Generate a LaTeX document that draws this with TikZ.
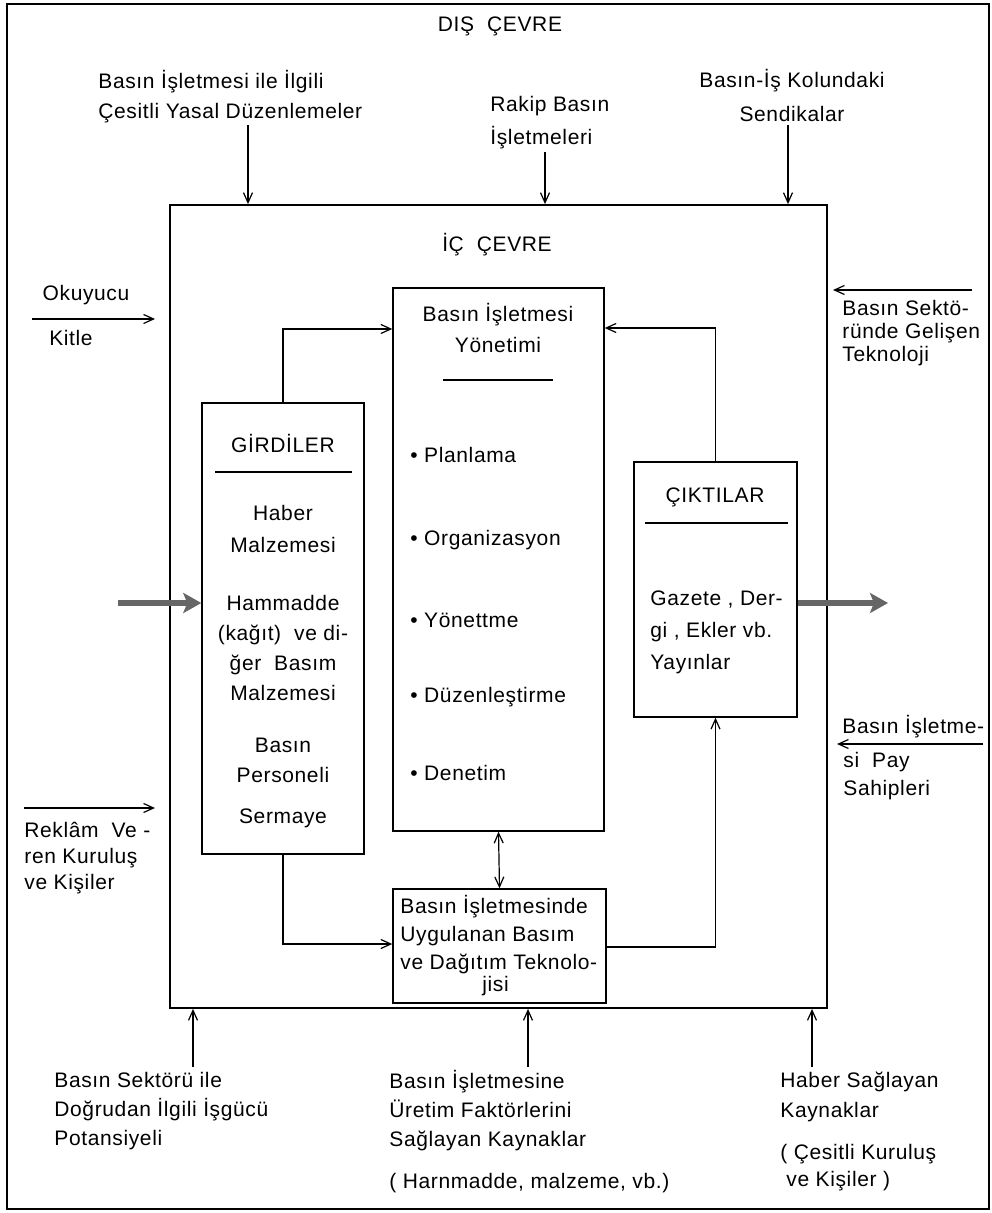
\documentclass[tikz,border=0pt]{standalone}
\usepackage{fontspec}
\setmainfont{Liberation Sans}[LetterSpace=3]
\usetikzlibrary{arrows.meta,fit}
\begin{document}
\begin{tikzpicture}[x=0.5pt,y=-0.5pt,
  txt/.style={inner sep=0pt, font=\fontsize{10.5}{15}\selectfont},
  frame/.style={draw, line width=0.9pt, inner sep=0pt},
  box/.style={draw, line width=0.7pt, inner sep=0pt},
  conn/.style={line width=0.6pt, -{Straight Barb[length=5pt,width=4.5pt]}},
  both/.style={line width=0.6pt, {Straight Barb[length=5pt,width=4.5pt]}-{Straight Barb[length=5pt,width=4.5pt]}},
  fat/.style={line width=3pt, draw=black!60, -{Stealth[length=9pt,width=10pt,inset=2pt]}},
  rule/.style={line width=0.6pt}]
\useasboundingbox (0,0) rectangle (991,1213);
\fill[white] (0,0) rectangle (991,1213);

% frames and boxes
\node[frame, fit={(7,4) (989,1209)}] (outer) {};
\node[frame, fit={(170,205) (827,1008)}] (inner) {};
\node[box, fit={(202,403) (364,854)}] (gird) {};
\node[box, fit={(393,288) (604,831)}] (mgmt) {};
\node[box, fit={(634,462) (797,717)}] (cikti) {};
\node[box, fit={(393,889) (606,1003)}] (tech) {};

% outer texts
\node[txt] (dis) at (500,26) {DIŞ~~ÇEVRE};
\node[txt, anchor=west, align=left] (yasal) at (98,97) {Basın İşletmesi ile İlgili\\Çesitli Yasal Düzenlemeler};
\node[txt, anchor=west, align=left, font=\fontsize{10.5}{16.5}\selectfont] (rakip) at (490,123) {Rakip Basın\\İşletmeleri};
\node[txt, align=center, font=\fontsize{10.5}{17}\selectfont] (sendika) at (792,95) {Basın-İş Kolundaki\\Sendikalar};
\node[txt] (okuyucu) at (86,295) {Okuyucu};
\node[txt] (kitle) at (71,338) {Kitle};
\node[txt, anchor=west, align=left, font=\fontsize{10.5}{11.5}\selectfont] (sektor) at (842,333) {Basın Sektö-\\ründe Gelişen\\Teknoloji};
\node[txt, anchor=west] (pay1) at (842,727) {Basın İşletme-};
\node[txt, anchor=west, align=left, font=\fontsize{10.5}{14}\selectfont] (pay2) at (843,776) {si~~Pay\\Sahipleri};
\node[txt, anchor=west, align=left, font=\fontsize{10.5}{13}\selectfont] (reklam) at (24,858) {Reklâm~~Ve -\\ren Kuruluş\\ve Kişiler};
\node[txt, anchor=west, align=left, font=\fontsize{10.5}{14.5}\selectfont] (lab1) at (54,1111) {Basın Sektörü ile\\Doğrudan İlgili İşgücü\\Potansiyeli};
\node[txt, anchor=west, align=left, font=\fontsize{10.5}{14.5}\selectfont] (lab2) at (389,1111) {Basın İşletmesine\\Üretim Faktörlerini\\Sağlayan Kaynaklar};
\node[txt, anchor=west] (lab2b) at (389,1183) {( Harnmadde, malzeme, vb.)};
\node[txt, anchor=west, align=left, font=\fontsize{10.5}{15}\selectfont] (lab3) at (780,1097) {Haber Sağlayan\\Kaynaklar};
\node[txt, anchor=west, align=left, font=\fontsize{10.5}{13.5}\selectfont] (lab3b) at (780,1168) {( Çesitli Kuruluş\\\hspace*{3pt}ve Kişiler )};

% inner texts
\node[txt] (ic) at (497,245) {İÇ~~ÇEVRE};
\node[txt] (girdt) at (283,443) {GİRDİLER};
\draw[rule] (215,472) -- (352,472);
\node[txt, align=center, font=\fontsize{10.5}{16}\selectfont] (g1) at (283,529) {Haber\\Malzemesi};
\node[txt, align=center] (g2) at (283,648) {Hammadde\\(kağıt)~ ve di-\\ğer~ Basım\\Malzemesi};
\node[txt, align=center] (g3) at (283,760) {Basın\\Personeli};
\node[txt] (g4) at (283,818) {Sermaye};

\node[txt, align=center, font=\fontsize{10.5}{15.5}\selectfont] (m0) at (498,328) {Basın İşletmesi\\Yönetimi};
\draw[rule] (443,380) -- (553,380);
\node[txt, anchor=west] (m1) at (410,455) {• Planlama};
\node[txt, anchor=west] (m2) at (410,540) {• Organizasyon};
\node[txt, anchor=west] (m3) at (410,620) {• Yönettme};
\node[txt, anchor=west] (m4) at (410,697) {• Düzenleştirme};
\node[txt, anchor=west] (m5) at (410,773) {• Denetim};

\node[txt] (ciktit) at (715,497) {ÇIKTILAR};
\draw[rule] (645,523) -- (788,523);
\node[txt, anchor=west, align=left, font=\fontsize{10.5}{16}\selectfont] (c1) at (650,632) {Gazete , Der-\\gi , Ekler vb.\\Yayınlar};

\node[txt, anchor=west, align=left, font=\fontsize{10.5}{14}\selectfont] (t1) at (400,946) {Basın İşletmesinde\\Uygulanan Basım\\ve Dağıtım Teknolo-\\[-3pt]\hspace*{41pt}jisi};

% coordinates for free ends
\coordinate (a1) at (248,125);
\coordinate (a2) at (545,152);
\coordinate (a3) at (788,125);
\coordinate (b1) at (193,1067);
\coordinate (b2) at (528,1067);
\coordinate (b3) at (812,1067);
\coordinate (oks) at (32,319);
\coordinate (oke) at (155,319);
\coordinate (sks) at (972,290);
\coordinate (ske) at (833,290);
\coordinate (rks) at (24,808);
\coordinate (rke) at (155,808);
\coordinate (pys) at (983,744);
\coordinate (pye) at (837,744);
\coordinate (j1) at (0,329);
\coordinate (j2) at (0,328);
\coordinate (j3) at (0,944);
\coordinate (j4) at (0,947);
\coordinate (fl) at (118,603);
\coordinate (fr) at (888,603);

% outside arrows
\draw[conn] (a1) -- (inner.north -| a1);
\draw[conn] (a2) -- (inner.north -| a2);
\draw[conn] (a3) -- (inner.north -| a3);
\draw[conn] (b1) -- (inner.south -| b1);
\draw[conn] (b2) -- (inner.south -| b2);
\draw[conn] (b3) -- (inner.south -| b3);
\draw[conn] (oks) -- (oke);
\draw[conn] (sks) -- (ske);
\draw[conn] (rks) -- (rke);
\draw[conn] (pys) -- (pye);

% inner connectors
\draw[conn] (gird.north) |- (mgmt.west |- j1);
\draw[conn] (cikti.north) |- (mgmt.east |- j2);
\draw[both] (mgmt.south) -- (tech.north);
\draw[conn] (gird.south) |- (tech.west |- j3);
\draw[conn] (tech.east |- j4) -| (cikti.south);

% thick arrows
\draw[fat] (fl) -- (gird.west |- fl);
\draw[fat] (cikti.east |- fr) -- (fr);
\end{tikzpicture}
\end{document}
